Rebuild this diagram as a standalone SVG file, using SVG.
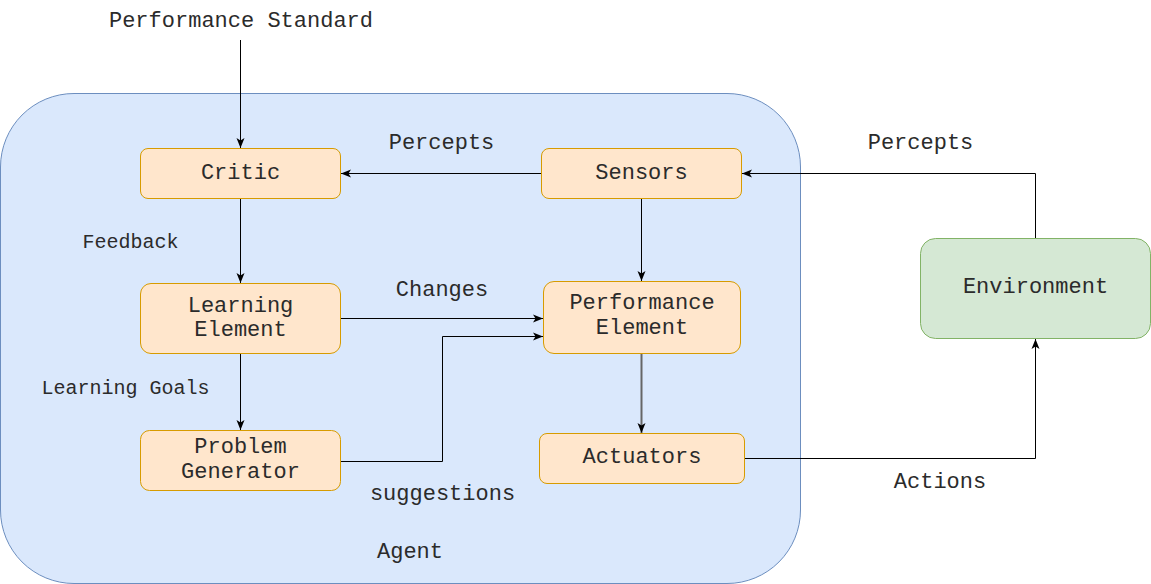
<svg xmlns="http://www.w3.org/2000/svg" width="1151" height="584" viewBox="0 0 1151 584">
<style>
.agent{fill:#dae8fc;stroke:#6c8ebf;stroke-width:1}
.node{fill:#ffe6cc;stroke:#d79b00;stroke-width:1}
.env{fill:#d5e8d4;stroke:#82b366;stroke-width:1}
.t{font-family:"Liberation Mono","Courier New",monospace;font-size:22px;fill:#2b2b2b;text-anchor:middle}
.s{font-size:20px}
.c{fill:none;stroke:#000;stroke-width:1;marker-end:url(#arr)}
.g{stroke:#666;stroke-width:2}
</style>
<defs>
<marker id="arr" markerUnits="userSpaceOnUse" markerWidth="10" markerHeight="10" viewBox="0 0 10 10" refX="10" refY="5" orient="auto">
<path d="M0,1 L10,5 L0,9 L2.5,5 Z" fill="#000"/>
</marker>
</defs>
<rect width="1151" height="584" fill="#fff"/>
<g id="agent">
<rect class="agent" x="0.5" y="93.5" width="800" height="490" rx="73.5" ry="73.5"/>
<text class="t" x="410" y="558">Agent</text>
</g>
<g id="connectors">
<path class="c" d="M240.5,40 V148"/>
<path class="c" d="M541.5,173.5 H341"/>
<path class="c" d="M240.5,198.5 V283"/>
<path class="c" d="M641.5,198.5 V281"/>
<path class="c" d="M340.5,318.5 H543"/>
<path class="c" d="M340.5,461.5 H442.5 V336.5 H543"/>
<path class="c g" d="M641.5,353.5 V433"/>
<path class="c" d="M240.5,353.5 V430"/>
<path class="c" d="M744.5,458.5 H1035.5 V339"/>
<path class="c" d="M1035.5,238.5 V173.5 H742"/>
<text class="t" x="241" y="26.5">Performance Standard</text>
<text class="t" x="441.5" y="148.5">Percepts</text>
<text class="t" x="920.5" y="148.5">Percepts</text>
<text class="t s" x="130.5" y="248">Feedback</text>
<text class="t" x="442" y="296">Changes</text>
<text class="t s" x="125.5" y="393.5">Learning Goals</text>
<text class="t" x="442.5" y="499.5">suggestions</text>
<text class="t" x="940" y="488">Actions</text>
</g>
<g id="critic">
<rect class="node" x="140.5" y="148.5" width="200" height="50" rx="7.5"/>
<text class="t" x="240.5" y="178.5">Critic</text>
</g>
<g id="sensors">
<rect class="node" x="541.5" y="148.5" width="200" height="50" rx="7.5"/>
<text class="t" x="641.5" y="178.5">Sensors</text>
</g>
<g id="learning-element">
<rect class="node" x="140.5" y="283.5" width="200" height="70" rx="10.5"/>
<text class="t" x="240.5" y="311.5">Learning</text>
<text class="t" x="240.5" y="336">Element</text>
</g>
<g id="performance-element">
<rect class="node" x="543.5" y="281.5" width="197" height="72" rx="10.5"/>
<text class="t" x="642" y="309">Performance</text>
<text class="t" x="642" y="334">Element</text>
</g>
<g id="problem-generator">
<rect class="node" x="140.5" y="430.5" width="200" height="60" rx="9"/>
<text class="t" x="240.5" y="452.5">Problem</text>
<text class="t" x="240.5" y="477.5">Generator</text>
</g>
<g id="actuators">
<rect class="node" x="539.5" y="433.5" width="205" height="50" rx="7.5"/>
<text class="t" x="642" y="463">Actuators</text>
</g>
<g id="environment">
<rect class="env" x="920.5" y="238.5" width="230" height="100" rx="15"/>
<text class="t" x="1035.5" y="293">Environment</text>
</g>
</svg>
